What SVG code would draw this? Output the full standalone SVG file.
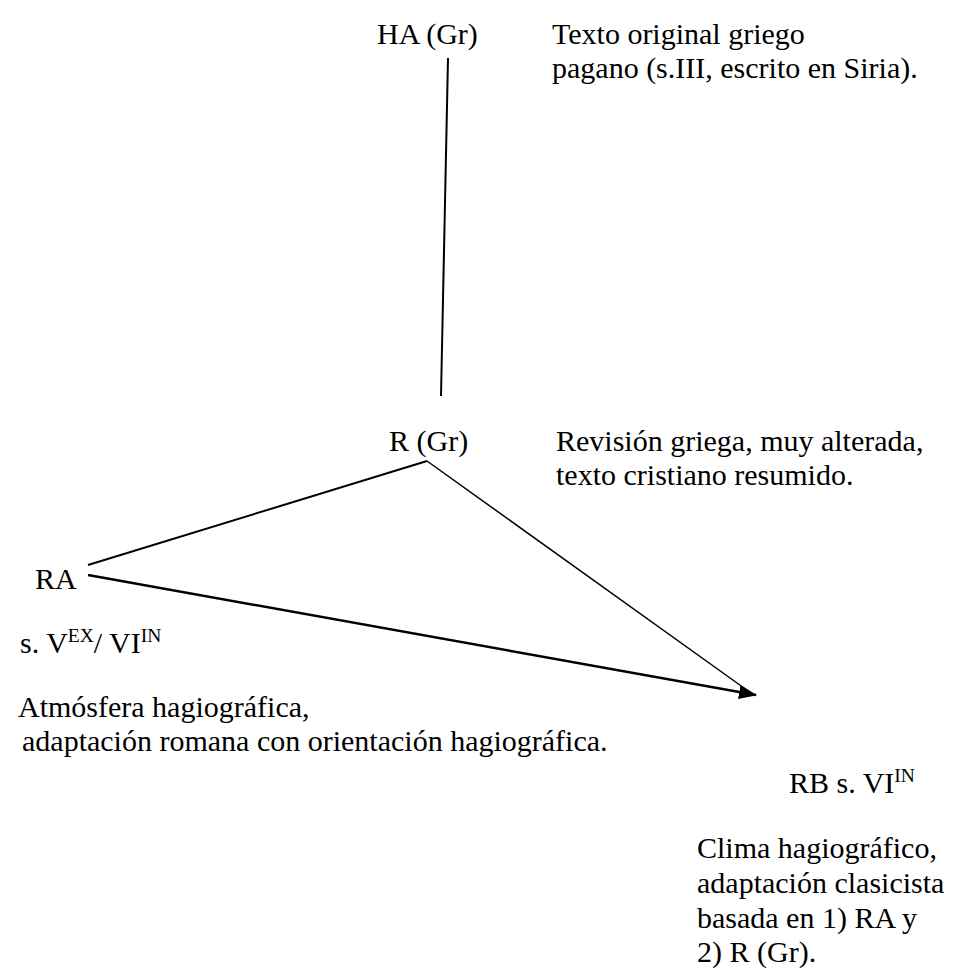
<svg xmlns="http://www.w3.org/2000/svg" width="955" height="973" viewBox="0 0 955 973">
<style>
text{font-family:"Liberation Serif","Times New Roman",serif;font-size:30px;fill:#000}
.sup{font-size:19.5px}
.ln{stroke:#000;fill:none}
</style>
<defs>
<marker id="ah" markerWidth="18" markerHeight="14" refX="17" refY="7" orient="auto" markerUnits="userSpaceOnUse" viewBox="0 0 18 14">
<path d="M0,0 L18,7 L0,14 z" fill="#000"/>
</marker>
</defs>
<rect width="955" height="973" fill="#fff"/>
<g id="connectors">
<line class="ln" x1="448" y1="58" x2="441" y2="396" stroke-width="2"/>
<line class="ln" x1="427" y1="461" x2="88" y2="565" stroke-width="2"/>
<line class="ln" x1="427" y1="461" x2="751" y2="693" stroke-width="1.5"/>
<line class="ln" x1="88" y1="575" x2="756" y2="695" stroke-width="2.5" marker-end="url(#ah)"/>
</g>
<g id="node-HA">
<text x="377" y="44">HA (Gr)</text>
<text x="552" y="44">Texto original griego</text>
<text x="552" y="78"> pagano (s.III, escrito en Siria).</text>
</g>
<g id="node-R">
<text x="389" y="451">R (Gr)</text>
<text x="556" y="451">Revisión griega, muy alterada,</text>
<text x="556" y="485"> texto cristiano resumido.</text>
</g>
<g id="node-RA">
<text x="35" y="589">RA</text>
<text x="20" y="653">s. V<tspan class="sup" dy="-11">EX</tspan><tspan dy="11">/ VI</tspan><tspan class="sup" dy="-11">IN</tspan></text>
<text x="18" y="717">Atmósfera hagiográfica,</text>
<text x="22" y="751">adaptación romana con orientación hagiográfica.</text>
</g>
<g id="node-RB">
<text x="789" y="793">RB s. VI<tspan class="sup" dy="-11">IN</tspan></text>
<text x="697" y="858">Clima hagiográfico,</text>
<text x="697" y="893"> adaptación clasicista</text>
<text x="697" y="928"> basada en 1) RA y</text>
<text x="697" y="962"> 2) R (Gr).</text>
</g>
</svg>
